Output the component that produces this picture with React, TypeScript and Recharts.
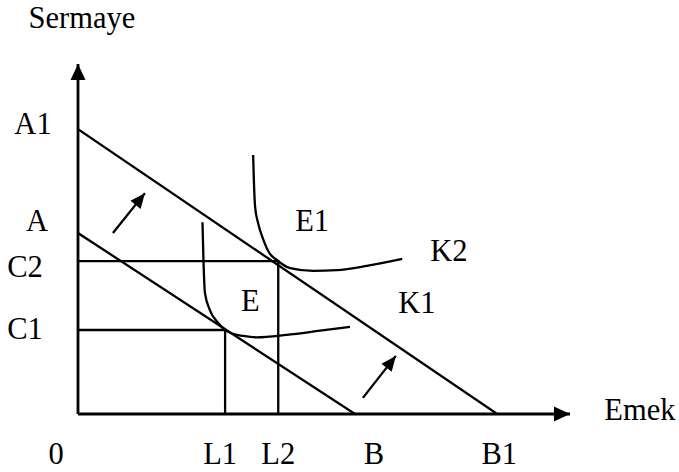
import { LineChart, Line, XAxis, YAxis, ReferenceDot } from 'recharts';

// budget lines (isocost): intercepts on capital (y) and labour (x) axes
const budgetA = [{ x: 0, y: 51.7 }, { x: 56.3, y: 0 }];
const budgetA1 = [{ x: 0, y: 81.4 }, { x: 85.2, y: 0 }];

// isoquants
const isoK1 = [
  { x: 25.3, y: 54.8 }, { x: 25.5, y: 44.0 }, { x: 25.8, y: 34.6 }, { x: 26.8, y: 29.7 },
  { x: 28.5, y: 26.0 }, { x: 30.9, y: 23.2 }, { x: 33.6, y: 22.3 }, { x: 36.3, y: 21.9 },
  { x: 42.4, y: 22.6 }, { x: 49.2, y: 23.8 }, { x: 55.3, y: 24.9 },
];
const isoK2 = [
  { x: 35.6, y: 74.0 }, { x: 35.7, y: 68.9 }, { x: 36.0, y: 59.1 }, { x: 36.6, y: 54.6 },
  { x: 37.7, y: 49.7 }, { x: 38.9, y: 46.0 }, { x: 40.4, y: 44.0 }, { x: 43.1, y: 41.7 },
  { x: 47.8, y: 40.9 }, { x: 52.6, y: 41.1 }, { x: 58.7, y: 42.3 }, { x: 65.9, y: 44.3 },
];

// equilibrium guide lines
const C1 = 24.0;
const L1 = 29.9;
const C2 = 43.7;
const L2 = 40.7;
const guide1 = [{ x: 0, y: C1 }, { x: L1, y: C1 }, { x: L1, y: 0 }];
const guide2 = [{ x: 0, y: C2 }, { x: L2, y: C2 }, { x: L2, y: 0 }];

// shift arrows
const shiftArrow1 = [{ x: 7.1, y: 51.7 }, { x: 13.6, y: 63.1 }];
const shiftArrow2 = [{ x: 57.9, y: 4.6 }, { x: 64.6, y: 16.6 }];

const xTicks = [
  { v: 0, label: '0' },
  { v: L1, label: 'L1' },
  { v: L2, label: 'L2' },
  { v: 56.3, label: 'B' },
  { v: 85.2, label: 'B1' },
];
const yTicks = [
  { v: 81.4, label: 'A1' },
  { v: 51.7, label: 'A' },
  { v: C2, label: 'C2' },
  { v: C1, label: 'C1' },
];

const notes = [
  { text: 'Sermaye', x: 0.8, y: 113.1 },
  { text: 'Emek', x: 114.2, y: 1.1 },
  { text: 'E1', x: 47.6, y: 55.1 },
  { text: 'K2', x: 75.4, y: 46.6 },
  { text: 'E', x: 35.0, y: 32.3 },
  { text: 'K1', x: 68.9, y: 31.7 },
];

const FONT = '"Liberation Serif", "Times New Roman", serif';
const FS = 30.5;

// label nudges so the text sits like in the original figure
const xNudge: Record<string, number> = { '0': -22, L1: -5, L2: 0, B: 19, B1: 2 };
const yNudge: Record<string, [number, number]> = {
  A1: [-45, -5],
  A: [-41, -12],
  C2: [-53, 6],
  C1: [-53, -1],
};

const XTick = (p: any) => {
  const t = xTicks.find((d) => Math.abs(d.v - p.payload.value) < 0.01);
  if (!t) return <g />;
  return (
    <text x={p.x + (xNudge[t.label] ?? 0)} y={p.y + 50} textAnchor="middle" fontFamily={FONT} fontSize={FS} fill="#000">
      {t.label}
    </text>
  );
};

const YTick = (p: any) => {
  const t = yTicks.find((d) => Math.abs(d.v - p.payload.value) < 0.01);
  if (!t) return <g />;
  const [dx, dy] = yNudge[t.label] ?? [-40, 0];
  return (
    <text x={p.x + dx} y={p.y + dy} textAnchor="middle" dominantBaseline="central" fontFamily={FONT} fontSize={FS} fill="#000">
      {t.label}
    </text>
  );
};

function arrowDot() {
  let prev: { x: number; y: number } | null = null;
  return (p: any) => {
    if (p.index === 0) {
      prev = { x: p.cx, y: p.cy };
      return <g key={`a${p.index}`} />;
    }
    const from = p.points?.[p.index - 1] ?? prev ?? { x: p.cx - 1, y: p.cy };
    const ang = (Math.atan2(p.cy - from.y, p.cx - from.x) * 180) / Math.PI;
    return (
      <polygon
        key={`a${p.index}`}
        points="0,0 -15,-6.5 -15,6.5"
        transform={`translate(${p.cx},${p.cy}) rotate(${ang})`}
        fill="#000"
      />
    );
  };
}

const axisHead = (rot: number) => (p: any) => (
  <polygon points="0,0 -16,-7.5 -16,7.5" transform={`translate(${p.cx},${p.cy}) rotate(${rot})`} fill="#000" />
);

const noteShape = (text: string) => (p: any) => (
  <text x={p.cx} y={p.cy} textAnchor="middle" dominantBaseline="central" fontFamily={FONT} fontSize={FS} fill="#000">
    {text}
  </text>
);

export default function App() {
  const line = { type: 'linear' as const, stroke: '#000', strokeWidth: 2.3, dot: false, activeDot: false, isAnimationActive: false };
  return (
    <div style={{ position: 'absolute', left: 0, top: 0, width: 679, height: 472, background: '#fff' }}>
      <LineChart width={679} height={472} margin={{ top: 64, right: 109, bottom: 18, left: 18 }}>
        <XAxis
          type="number"
          dataKey="x"
          domain={[0, 100]}
          allowDataOverflow
          ticks={xTicks.map((d) => d.v)}
          interval={0}
          tick={<XTick />}
          tickLine={false}
          tickSize={0}
          tickMargin={0}
          height={40}
          axisLine={{ stroke: '#000', strokeWidth: 2.8 }}
        />
        <YAxis
          type="number"
          dataKey="y"
          domain={[0, 100]}
          allowDataOverflow
          ticks={yTicks.map((d) => d.v)}
          interval={0}
          tick={<YTick />}
          tickLine={false}
          tickSize={0}
          tickMargin={0}
          width={60}
          axisLine={{ stroke: '#000', strokeWidth: 2.8 }}
        />
        <Line data={budgetA} dataKey="y" {...line} />
        <Line data={budgetA1} dataKey="y" {...line} />
        <Line data={guide1} dataKey="y" {...line} />
        <Line data={guide2} dataKey="y" {...line} />
        <Line data={isoK1} dataKey="y" {...line} type="monotone" />
        <Line data={isoK2} dataKey="y" {...line} type="monotone" />
        <Line data={shiftArrow1} dataKey="y" {...line} dot={arrowDot()} />
        <Line data={shiftArrow2} dataKey="y" {...line} dot={arrowDot()} />
        <ReferenceDot x={100} y={0} r={0} ifOverflow="visible" shape={axisHead(0)} />
        <ReferenceDot x={0} y={100} r={0} ifOverflow="visible" shape={axisHead(-90)} />
        {notes.map((n) => (
          <ReferenceDot key={n.text} x={n.x} y={n.y} r={0} ifOverflow="visible" shape={noteShape(n.text)} />
        ))}
      </LineChart>
    </div>
  );
}
